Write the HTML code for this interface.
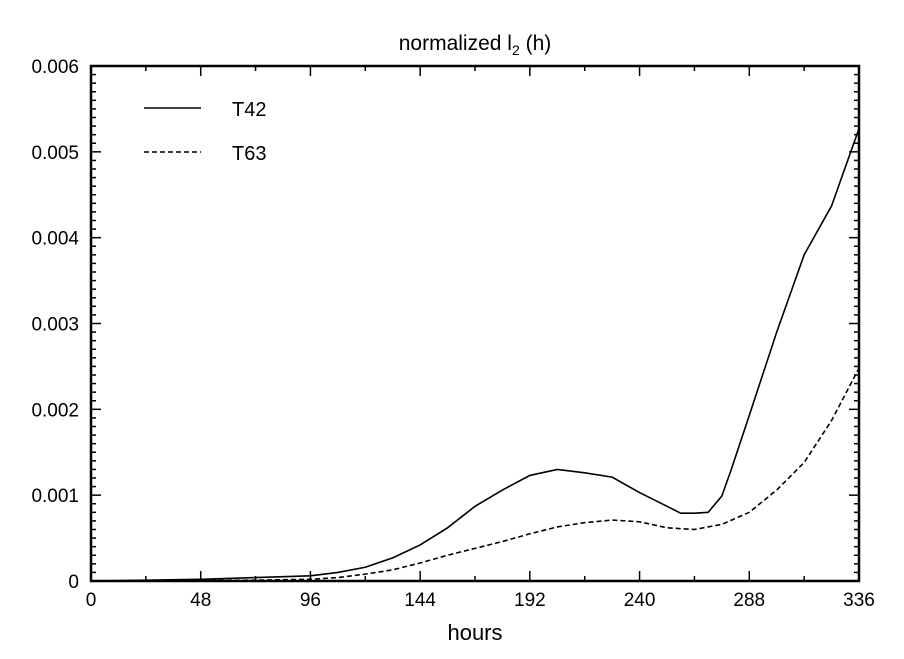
<!DOCTYPE html>
<html><head><meta charset="utf-8"><style>
body{margin:0;background:#fff}
svg text{font-family:"Liberation Sans","DejaVu Sans",sans-serif;fill:#000}
</style></head><body>
<svg width="904" height="654" id="c">
<text x="475" y="50" font-size="21" text-anchor="middle">normalized l<tspan font-size="14" dy="5">2</tspan><tspan dy="-5"> (h)</tspan></text>
<text x="475" y="640" font-size="22" text-anchor="middle">hours</text>
<g>
<line x1="144" y1="108" x2="201" y2="108" stroke="#000" stroke-width="1.6"/>
<text x="232" y="116" font-size="20">T42</text>
<line x1="144" y1="152" x2="201" y2="152" stroke="#000" stroke-width="1.6" stroke-dasharray="5,3"/>
<text x="232" y="160" font-size="20">T63</text>
</g>
</svg>
<script>
const hours=[0,24,48,72,96,108,120,132,144,156,168,180,192,204,216,228,240,252,258,264,270,276,280,288,300,312,324,336];
const t42=[0,0.00001,0.00002,0.00004,0.00006,0.0001,0.00016,0.00027,0.00042,0.00062,0.00087,0.00106,0.00123,0.0013,0.00126,0.00121,0.00103,0.00087,0.00079,0.00079,0.0008,0.00099,0.00129,0.00193,0.0029,0.0038,0.00437,0.00527];
const t63hours=[0,24,48,72,96,108,120,132,144,156,168,180,192,204,216,228,240,252,264,276,288,300,312,324,336];
const t63=[0,0,0.000005,0.00001,0.00002,0.00004,0.00008,0.00013,0.00021,0.0003,0.00038,0.00046,0.00055,0.00063,0.00068,0.00071,0.00069,0.00062,0.0006,0.00066,0.0008,0.00106,0.00138,0.00187,0.00248];
const xTicks=[0,48,96,144,192,240,288,336];
const yTicks=[0,0.001,0.002,0.003,0.004,0.005,0.006];
const yLabels=["0","0.001","0.002","0.003","0.004","0.005","0.006"];
const L=91,R=859,T=66,B=581;
const sx=h=>L+(h/336)*(R-L), sy=v=>B-(v/0.006)*(B-T);
const svg=document.getElementById('c'),NS='http://www.w3.org/2000/svg';
function mk(t,a){const e=document.createElementNS(NS,t);for(const k in a)e.setAttribute(k,a[k]);svg.appendChild(e);return e;}
const fr=mk('rect',{x:L,y:T,width:R-L,height:B-T,fill:'none',stroke:'#000','stroke-width':2.5});


for(let h=0;h<=336;h+=24){const maj=h%48===0,len=maj?10:5,x=sx(h);
 const t1=mk('line',{x1:x,y1:B,x2:x,y2:B-len,stroke:'#000','stroke-width':1.5});
 
 
 const t2=mk('line',{x1:x,y1:T,x2:x,y2:T+len,stroke:'#000','stroke-width':1.5});
 
 }
xTicks.forEach(h=>{const t=mk('text',{x:sx(h),y:B+25,'font-size':19,'text-anchor':'middle'});t.textContent=h;
 
 });
for(let i=0;i<=60;i++){const v=i*0.0001,maj=i%10===0,len=maj?10:5,y=sy(v);
 const t1=mk('line',{x1:L,y1:y,x2:L+len,y2:y,stroke:'#000','stroke-width':1.5});
 
 
 const t2=mk('line',{x1:R,y1:y,x2:R-len,y2:y,stroke:'#000','stroke-width':1.5});
 
 }
yTicks.forEach((v,i)=>{const t=mk('text',{x:L-12,y:sy(v)+7,'font-size':19,'text-anchor':'end'});t.textContent=yLabels[i];
 
 });
const p1=mk('polyline',{points:hours.map((h,i)=>sx(h)+','+sy(t42[i])).join(' '),fill:'none',stroke:'#000','stroke-width':1.6});


const p2=mk('polyline',{points:t63hours.map((h,i)=>sx(h)+','+sy(t63[i])).join(' '),fill:'none',stroke:'#000','stroke-width':1.6,'stroke-dasharray':'5,3'});


</script>
</body></html>
